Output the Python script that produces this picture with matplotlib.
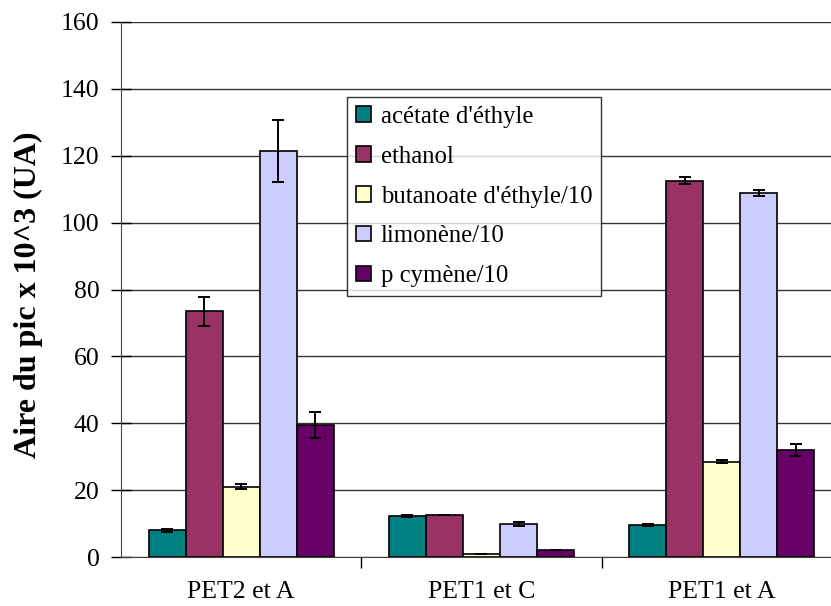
import matplotlib
matplotlib.use("Agg")
import matplotlib.pyplot as plt
import numpy as np

categories = ["PET2 et A", "PET1 et C", "PET1 et A"]
series_names = ["acétate d'éthyle", "ethanol", "butanoate d'éthyle/10",
                "limonène/10", "p cymène/10"]
acetate = [8.0, 12.3, 9.5]
ethanol = [73.5, 12.5, 112.5]
butanoate = [21.0, 1.0, 28.5]
limonene = [121.5, 10.0, 109.0]
pcymene = [39.5, 2.0, 32.0]
acetate_err = [0.5, 0.3, 0.3]
ethanol_err = [4.3, 0.0, 1.0]
butanoate_err = [0.8, 0.0, 0.4]
limonene_err = [9.3, 0.6, 0.9]
pcymene_err = [3.8, 0.0, 1.8]
colors = ["#008080", "#993366", "#FFFFCC", "#CCCCFF", "#660066"]
y_ticks = [0, 20, 40, 60, 80, 100, 120, 140, 160]

values = [acetate, ethanol, butanoate, limonene, pcymene]
errors = [acetate_err, ethanol_err, butanoate_err, limonene_err, pcymene_err]

plt.rcParams['font.family'] = ['Liberation Serif', 'DejaVu Serif']

W, H = 831, 606
fig = plt.figure(figsize=(W / 100, H / 100), dpi=100)
left = 121 / W
right = 842 / W
bottom = 1 - 557 / H
top = 1 - 22 / H
ax = fig.add_axes([left, bottom, right - left, top - bottom])

x = np.arange(len(categories))
bw = 0.154
for i, (vals, errs, c, name) in enumerate(zip(values, errors, colors, series_names)):
    pos = x + (i - 2) * bw
    ax.bar(pos, vals, width=bw, color=c, edgecolor="black", linewidth=1.2,
           label=name, zorder=3)
    ax.errorbar(pos, vals, yerr=errs, fmt="none", ecolor="black",
                elinewidth=1.4, capsize=4.5, capthick=1.4, zorder=4)

ax.set_xlim(-0.5, 2.5)
ax.set_ylim(0, 160)
ax.set_yticks(y_ticks)
ax.set_yticklabels([str(t) for t in y_ticks], fontsize=18.5)
ax.yaxis.grid(True, color="#333333", linewidth=1.0, zorder=0)
ax.set_axisbelow(True)

ax.set_xticks(x)
ax.set_xticklabels(categories, fontsize=18.5)
ax.tick_params(axis="x", length=0, pad=17)
ax.set_xticks([0.5, 1.5], minor=True)
ax.tick_params(axis="x", which="minor", length=8, width=1, direction="out")
ax.tick_params(axis="y", length=15, width=1, direction="inout", pad=8)

for s in ["top", "right"]:
    ax.spines[s].set_visible(False)
ax.spines["left"].set_color("#444444")
ax.spines["bottom"].set_color("#444444")

ax.set_ylabel("Aire du pic x 10^3 (UA)", fontsize=23, fontweight="bold")
ax.yaxis.set_label_coords((43 - 121) / (842 - 121), 1 - (295 - 22) / 535)

leg = ax.legend(loc="upper left", bbox_to_anchor=((347 - 121) / (842 - 121), 1 - (97 - 22) / 535),
                fontsize=17.8, frameon=True, fancybox=False, edgecolor="black",
                handlelength=0.6, handleheight=0.6, handletextpad=0.4,
                labelspacing=0.72, borderpad=0.36, borderaxespad=0)
leg.get_frame().set_linewidth(1.0)
leg.set_zorder(5)

fig.savefig("out.png", dpi=100)
